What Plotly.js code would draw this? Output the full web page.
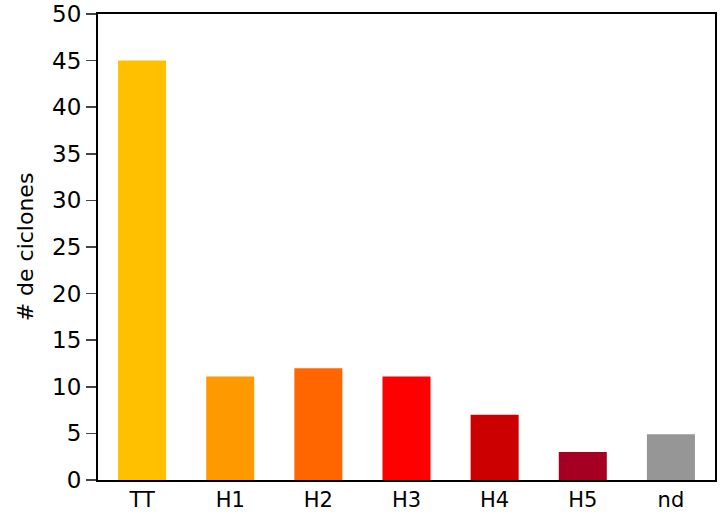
<!DOCTYPE html>
<html>
<head>
<meta charset="utf-8">
<script src="https://cdn.plot.ly/plotly-3.0.1.min.js"></script>
<style>html,body{margin:0;padding:0;background:#fff;}#chart{width:721px;height:518px;}</style>
</head>
<body>
<div id="chart"></div>
<script>
const categories = ["TT", "H1", "H2", "H3", "H4", "H5", "nd"];
const values = [45, 11.1, 12, 11.1, 7, 3, 4.9];
const colors = ["#FFC000", "#FF9900", "#FF6600", "#FF0000", "#CC0000", "#A50021", "#969696"];
const yTicks = [0, 5, 10, 15, 20, 25, 30, 35, 40, 45, 50];

const font = "DejaVu Sans, sans-serif";

Plotly.newPlot("chart", [{
  type: "bar",
  x: categories,
  y: values,
  marker: {color: colors, line: {width: 0}},
  hoverinfo: "none"
}], {
  width: 721,
  height: 518,
  margin: {l: 98, r: 6, t: 14, b: 38},
  paper_bgcolor: "#fff",
  plot_bgcolor: "#fff",
  bargap: 0.455,
  showlegend: false,
  font: {family: font, size: 20, color: "#000"},
  xaxis: {
    type: "category",
    showline: true,
    linecolor: "#000",
    linewidth: 2,
    mirror: true,
    ticks: "",
    showgrid: false,
    zeroline: false,
    tickfont: {family: font, size: 21, color: "#000"},
    ticklen: 0
  },
  yaxis: {
    range: [0, 50],
    tickvals: yTicks,
    ticktext: yTicks.map(String),
    showline: true,
    linecolor: "#000",
    linewidth: 2,
    mirror: true,
    ticks: "outside",
    ticklen: 10,
    tickwidth: 1.5,
    tickcolor: "#444",
    showgrid: false,
    zeroline: false,
    tickfont: {family: font, size: 23, color: "#000"},
    title: {text: "# de ciclones", font: {family: font, size: 22, color: "#000"}, standoff: 12}
  }
}, {staticPlot: true});
</script>
</body>
</html>
